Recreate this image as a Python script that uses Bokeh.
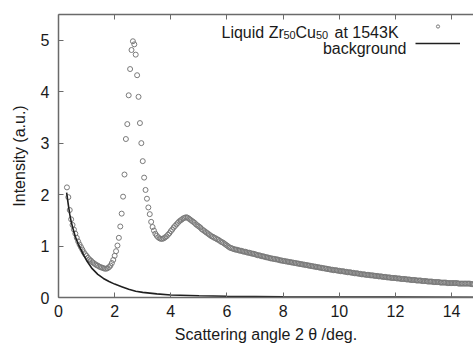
import numpy as np
from bokeh.plotting import figure
from bokeh.models import (Range1d, FixedTicker, LinearAxis, Legend, LegendItem, Label)
from bokeh.core.properties import value
from bokeh.embed import file_html
from bokeh.resources import INLINE

# ---- data ----
angle_start = 0.30
angle_step = 0.05
intensity = [
    2.14, 1.95, 1.70, 1.52, 1.41, 1.32, 1.24, 1.16, 1.09, 1.03,
    0.98, 0.93, 0.88, 0.84, 0.81, 0.77, 0.74, 0.72, 0.69, 0.67,
    0.65, 0.63, 0.62, 0.60, 0.59, 0.58, 0.57, 0.56, 0.56, 0.57,
    0.59, 0.62, 0.67, 0.73, 0.81, 0.90, 1.01, 1.16, 1.38, 1.63,
    1.96, 2.39,
    3.08, 3.37, 3.93, 4.44, 4.81, 4.98, 4.92, 4.72, 4.32, 3.90,
    3.39, 3.00, 2.65, 2.33, 2.09, 1.92, 1.75, 1.62, 1.47, 1.37,
    1.30, 1.24, 1.20, 1.17, 1.15, 1.14, 1.14, 1.15, 1.17, 1.19,
    1.22, 1.25, 1.29, 1.32, 1.36, 1.39, 1.42, 1.45, 1.48, 1.50,
    1.52, 1.54, 1.55, 1.56, 1.55, 1.53, 1.51, 1.49, 1.47, 1.45,
    1.42, 1.40, 1.38, 1.36, 1.33, 1.31, 1.29, 1.27, 1.25, 1.23,
    1.21, 1.19, 1.18, 1.16, 1.15, 1.13, 1.12, 1.10, 1.08, 1.07,
    1.05, 1.03, 1.01, 0.99, 0.97, 0.96, 0.95, 0.94, 0.93, 0.93,
    0.92, 0.91, 0.91,
    0.90, 0.89, 0.89, 0.88, 0.87, 0.87, 0.86, 0.85, 0.85, 0.84,
    0.83, 0.82, 0.82, 0.81, 0.80, 0.80, 0.79, 0.78, 0.78, 0.77,
    0.76, 0.76, 0.75, 0.75, 0.74, 0.74, 0.73, 0.72, 0.72, 0.71,
    0.71, 0.70, 0.70, 0.69, 0.69, 0.68, 0.68, 0.67, 0.67, 0.66,
    0.66, 0.65, 0.65, 0.64, 0.64, 0.63, 0.63, 0.62, 0.62, 0.61,
    0.61, 0.60, 0.60, 0.59, 0.59, 0.58, 0.58, 0.57, 0.57, 0.56,
    0.56, 0.55, 0.55, 0.54, 0.54, 0.53, 0.53, 0.53, 0.52, 0.52,
    0.51, 0.51, 0.51, 0.50, 0.50, 0.49, 0.49, 0.49, 0.48, 0.48,
    0.47, 0.47, 0.47, 0.46, 0.46, 0.45, 0.45, 0.45, 0.44, 0.44,
    0.44, 0.43, 0.43, 0.43, 0.42, 0.42, 0.42, 0.41, 0.41, 0.41,
    0.40, 0.40, 0.40, 0.39, 0.39, 0.39, 0.38, 0.38, 0.38, 0.38,
    0.37, 0.37, 0.37, 0.36, 0.36, 0.36, 0.36, 0.35, 0.35, 0.35,
    0.34, 0.34, 0.34, 0.34, 0.33, 0.33, 0.33, 0.33, 0.32, 0.32,
    0.32, 0.32, 0.31, 0.31, 0.31, 0.31, 0.30, 0.30, 0.30, 0.30,
    0.30, 0.29, 0.29, 0.29, 0.29, 0.29, 0.28, 0.28, 0.28, 0.28,
    0.28, 0.28, 0.28, 0.28, 0.27, 0.27, 0.27, 0.27, 0.27, 0.27,
    0.27, 0.27, 0.27, 0.26, 0.26, 0.26,
]
angle = np.round(angle_start + angle_step * np.arange(len(intensity)), 2)

bg_angle = [0.29, 0.35, 0.40, 0.45, 0.50, 0.60, 0.70, 0.80, 0.90, 1.00,
            1.20, 1.40, 1.60, 1.80, 2.00, 2.25, 2.50, 2.75, 3.00, 3.50,
            4.00, 5.00, 6.00, 8.00, 10.00, 12.00, 14.80]
bg_value = [2.04, 1.80, 1.62, 1.48, 1.37, 1.18, 1.04, 0.93, 0.82, 0.72,
            0.56, 0.45, 0.37, 0.31, 0.26, 0.21, 0.16, 0.12, 0.10, 0.07,
            0.05, 0.035, 0.025, 0.015, 0.010, 0.008, 0.006]

x_ticks = [0, 2, 4, 6, 8, 10, 12, 14]
y_ticks = [0, 1, 2, 3, 4, 5]

FONT = "Liberation Sans"
TXT = "#1a1a1a"
AX = "#6a6a6a"

p = figure(width=473, height=347, output_backend="svg", toolbar_location=None,
           x_range=Range1d(0, 14.78), y_range=Range1d(0, 5.5),
           min_border_left=58, min_border_right=0, min_border_top=14,
           min_border_bottom=50, outline_line_color=None)
p.xgrid.visible = False
p.ygrid.visible = False

for ax in (p.xaxis[0], p.yaxis[0]):
    ax.major_tick_in = 5
    ax.major_tick_out = 0
    ax.minor_tick_line_color = None
    ax.axis_line_color = AX
    ax.axis_line_width = 1.5
    ax.major_tick_line_color = AX
    ax.major_label_text_font = FONT
    ax.major_label_text_font_size = "16px"
    ax.major_label_text_color = TXT
    ax.axis_label_text_font = FONT
    ax.axis_label_text_font_size = "16px"
    ax.axis_label_text_font_style = "normal"
    ax.axis_label_text_color = TXT

p.xaxis[0].ticker = FixedTicker(ticks=x_ticks)
p.yaxis[0].ticker = FixedTicker(ticks=y_ticks)
p.xaxis[0].axis_label = "Scattering angle 2 θ /deg."
p.yaxis[0].axis_label = "Intensity (a.u.)"
p.xaxis[0].major_label_standoff = 7
p.xaxis[0].axis_label_standoff = 6
p.yaxis[0].major_label_standoff = 9
p.yaxis[0].axis_label_standoff = 10

top = LinearAxis(ticker=FixedTicker(ticks=x_ticks), major_tick_in=5, major_tick_out=0,
                 minor_tick_line_color=None, axis_line_color=AX, axis_line_width=1.5,
                 major_tick_line_color=AX, major_label_text_font_size="1px",
                 major_label_text_color=None, major_label_standoff=0)
p.add_layout(top, "above")

sc = p.scatter(angle, intensity, marker="circle", size=5, fill_color=None,
               line_color="#7a7a7a", line_width=1)
bg = p.line(bg_angle, bg_value, line_color="#202020", line_width=1.6)

leg = Legend(items=[LegendItem(label=value(" "), renderers=[sc]),
                    LegendItem(label=value(" "), renderers=[bg])],
             location=(357, 246), glyph_width=45, glyph_height=8,
             label_height=17, label_width=0, label_standoff=0, padding=0,
             margin=0, spacing=0, border_line_color=None,
             background_fill_alpha=0, label_text_font_size="4px")
p.add_layout(leg)

def lab(txt, x, y, size="16px", align="left"):
    p.add_layout(Label(text=txt, x=x, y=y, x_units="screen", y_units="screen",
                       text_font=FONT, text_font_size=size, text_color=TXT,
                       text_align=align, text_baseline="alphabetic"))

lab("Liquid Zr", 163, 265)
lab("50", 225, 262.5, "11px")
lab("Cu", 237, 265)
lab("50", 257.5, 262.5, "11px")
lab("at 1543K", 276, 265)
lab("background", 348, 249.5, align="right")

open("out.html", "w").write(file_html(p, INLINE))
